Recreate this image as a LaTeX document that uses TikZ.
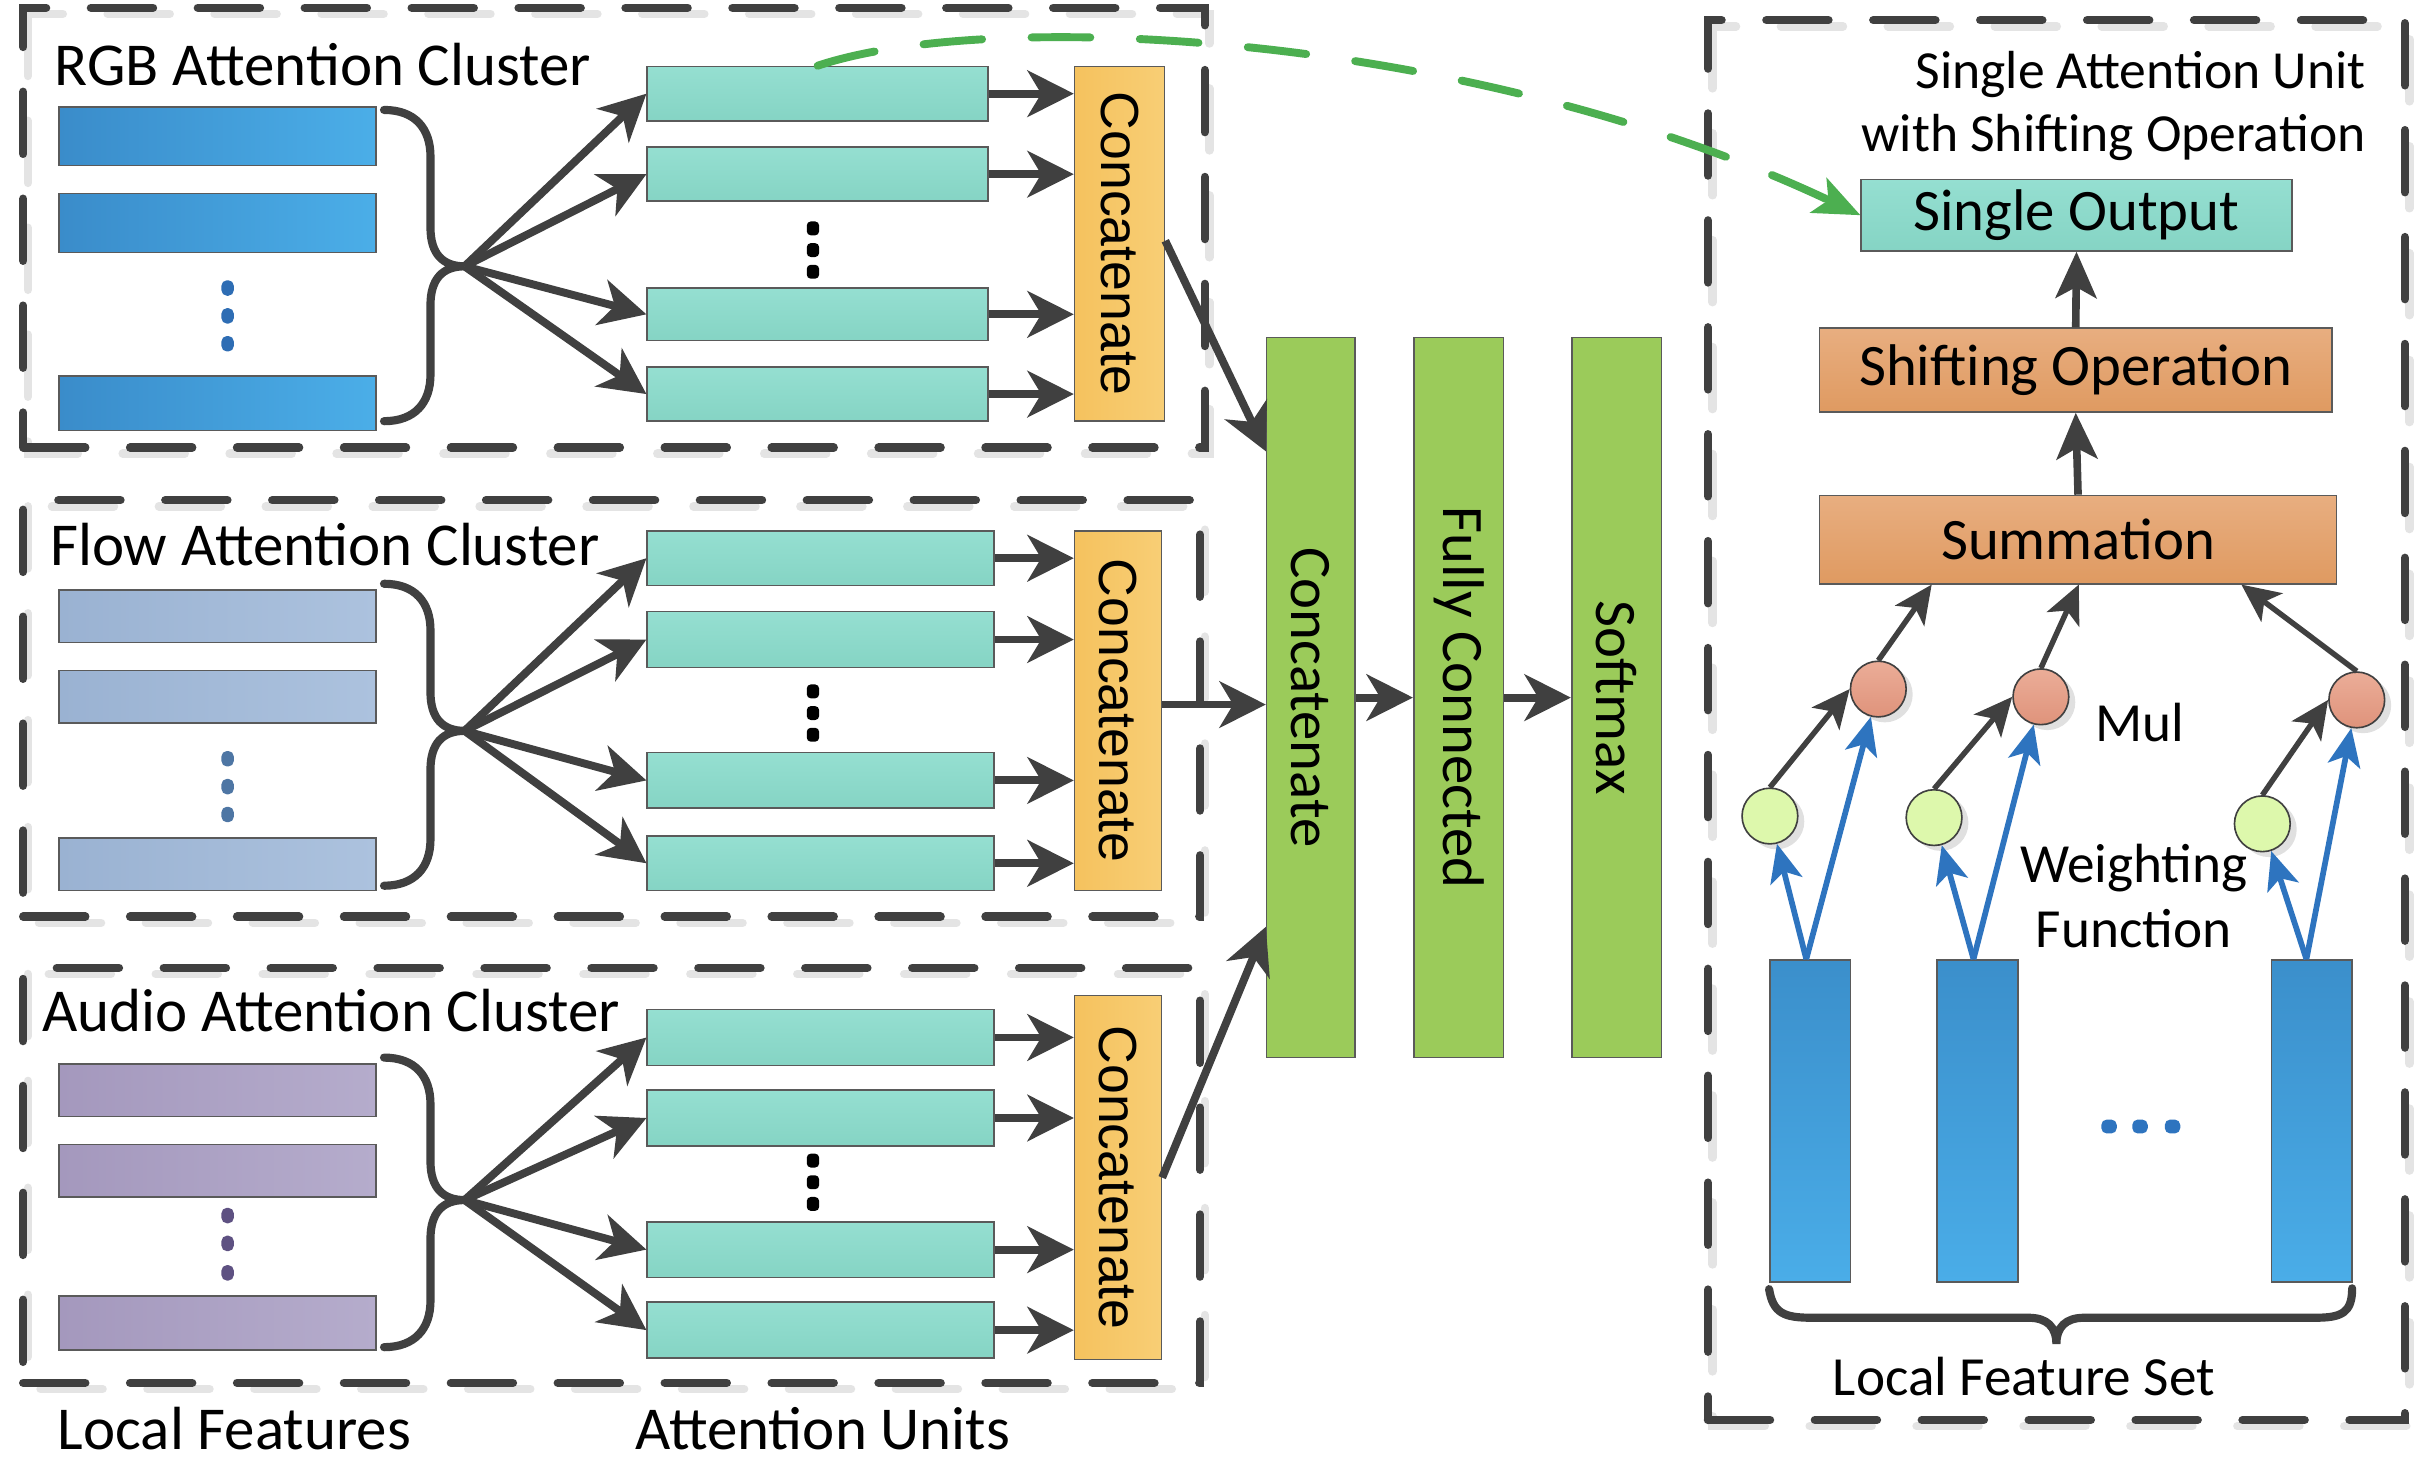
\documentclass[tikz,border=0pt]{standalone}
\usepackage{fontspec}
\setmainfont{Carlito}
\newfontfamily\concfont{Liberation Sans}
\usetikzlibrary{arrows.meta,fit,calc,shadows}
\definecolor{dk}{HTML}{404040}
\definecolor{shg}{HTML}{E4E4E4}
\definecolor{tealT}{HTML}{95DFD1}
\definecolor{tealB}{HTML}{85D4C4}
\definecolor{orL}{HTML}{F5C25E}
\definecolor{orR}{HTML}{F8CE75}
\definecolor{grn}{HTML}{9BCB5A}
\definecolor{rgbL}{HTML}{3A8CCA}
\definecolor{rgbR}{HTML}{4BAEE8}
\definecolor{flL}{HTML}{9AB2D2}
\definecolor{flR}{HTML}{ACC2DE}
\definecolor{auL}{HTML}{A498BD}
\definecolor{auR}{HTML}{B5ACCC}
\definecolor{rgbdot}{HTML}{2E6DB4}
\definecolor{fldot}{HTML}{4E76A4}
\definecolor{audot}{HTML}{5E5182}
\definecolor{cupT}{HTML}{E8AE80}
\definecolor{cupB}{HTML}{DF9A61}
\definecolor{redT}{HTML}{EBAD98}
\definecolor{redB}{HTML}{DF937B}
\definecolor{lgrn}{HTML}{DDF8AC}
\definecolor{fbT}{HTML}{3B8FCB}
\definecolor{fbB}{HTML}{4AADE8}
\definecolor{blu}{HTML}{2E74BF}
\definecolor{gdash}{HTML}{4CAF50}
\definecolor{edge}{HTML}{5A5A5A}
\newcommand\fsA{\fontsize{22.4}{26}\selectfont}
\newcommand\fsR{\fontsize{21.6}{26}\selectfont}
\newcommand\fsS{\fontsize{20.3}{24}\selectfont}
\newcommand\fsB{\fontsize{19.7}{24}\selectfont}
\newcommand\fsC{\fontsize{19.7}{24}\selectfont}
\tikzset{
  box/.style={draw=edge, line width=0.6pt, inner sep=0pt},
  unitbox/.style={box, top color=tealT, bottom color=tealB},
  concbox/.style={box, left color=orL, right color=orR},
  greenbox/.style={box, fill=grn},
  rgbbar/.style={box, left color=rgbL, right color=rgbR},
  flbar/.style={box, left color=flL, right color=flR},
  aubar/.style={box, left color=auL, right color=auR},
  featbar/.style={box, top color=fbT, bottom color=fbB},
  opbox/.style={box, top color=cupT, bottom color=cupB},
  dashline/.style={draw=dk, line width=3.1pt, dash pattern=on 22.8pt off 16.5pt, line cap=round},
  dashsh/.style={draw=shg, line width=3.1pt, dash pattern=on 22.8pt off 16.5pt, line cap=round},
  brc/.style={draw=dk, line width=3pt, line cap=round},
  arr/.style={draw=dk, line width=2.9pt, -{Stealth[length=17pt,width=17pt,inset=5pt]}},
  varr/.style={draw=dk, line width=2.8pt, -{Stealth[length=17pt,width=15pt,inset=4pt]}},
  sarr/.style={draw=dk, line width=2pt, -{Stealth[length=14pt,width=13pt,inset=3.5pt]}},
  barr/.style={draw=blu, line width=2.1pt, -{Stealth[length=14pt,width=12pt,inset=3.5pt]}},
  gdarr/.style={draw=gdash, line width=2.9pt, line cap=round, dash pattern=on 21.6pt off 18.2pt, -{Stealth[length=17pt,width=14pt,inset=4pt]}},
  redc/.style={circle, draw=dk, line width=0.6pt, top color=redT, bottom color=redB, minimum size=0.72cm, inner sep=0pt, drop shadow={shadow xshift=2.4pt, shadow yshift=-2pt, fill=black, opacity=0.12}},
  grc/.style={circle, draw=dk, line width=0.6pt, fill=lgrn, minimum size=0.72cm, inner sep=0pt, drop shadow={shadow xshift=2.4pt, shadow yshift=-2pt, fill=black, opacity=0.12}},
  lbl/.style={font=\fsA, inner sep=0pt},
  rlbl/.style={font=\fsR, inner sep=0pt},
  slbl/.style={font=\fsS, inner sep=0pt},
  vlbl/.style={font=\fsR, inner sep=0pt, rotate=-90},
  clbl/.style={font=\concfont\fsB, inner sep=0pt, rotate=-90},
}
\begin{document}
\begin{tikzpicture}[x=0.02cm, y=-0.02cm]
\fill[white] (0,0) rectangle (1568,945);
\useasboundingbox (0,0) rectangle (1568,945);

% ---------- dashed frames ----------
\draw[dashsh] (18,9) rectangle (781,293);
\draw[dashsh] (18,327) rectangle (778,596);
\draw[dashsh] (18,629) rectangle (778,897);
\draw[dashsh] (1106,17) rectangle (1556,921);
\node[dashline, fit={(15,5) (778,289)}, inner sep=0pt] (rgbframe) {};
\node[dashline, fit={(15,323) (775,592)}, inner sep=0pt] (flframe) {};
\node[dashline, fit={(15,625) (775,893)}, inner sep=0pt] (auframe) {};
\node[dashline, fit={(1103,13) (1553,917)}, inner sep=0pt] (unitframe) {};

% ---------- RGB cluster ----------
\node[lbl, anchor=base west] (rgbt) at (35,55) {RGB Attention Cluster};
\node[rgbbar, fit={(38,69) (243,107)}] (a1) {};
\node[rgbbar, fit={(38,125) (243,163)}] (a2) {};
\node[rgbbar, fit={(38,243) (243,278)}] (a3) {};
\foreach \yy in {186,204,222} \fill[rgbdot, rounded corners=2pt] (143,\yy-5) rectangle (151,\yy+5);
\draw[brc] (248,71) .. controls (268,71) and (278,83) .. (278,101) -- (278,147) .. controls (278,164) and (286,172) .. (300,172) .. controls (286,172) and (278,180) .. (278,197) -- (278,242) .. controls (278,260) and (268,272) .. (248,272);
\coordinate (t1) at (300,172);
\node[unitbox, fit={(418,43) (638,78)}] (u11) {};
\node[unitbox, fit={(418,95) (638,130)}] (u12) {};
\node[unitbox, fit={(418,186) (638,220)}] (u13) {};
\node[unitbox, fit={(418,237) (638,272)}] (u14) {};
\foreach \yy in {148,162,176} \fill[black, rounded corners=1.5pt] (521,\yy-5) rectangle (529,\yy+4);
\node[concbox, fit={(694,43) (752,272)}] (c1) {};
\node[clbl] (c1t) at (c1.center) {Concatenate};
\foreach \u in {u11,u12,u13,u14} {
  \draw[arr] (t1) -- (\u.west);
  \draw[arr] (\u.east) -- (\u.east -| c1.west);
}

% ---------- Flow cluster ----------
\node[lbl, anchor=base west] (flt) at (32,365) {Flow Attention Cluster};
\node[flbar, fit={(38,381) (243,415)}] (b1) {};
\node[flbar, fit={(38,433) (243,467)}] (b2) {};
\node[flbar, fit={(38,541) (243,575)}] (b3) {};
\foreach \yy in {490,508,526} \fill[fldot, rounded corners=2pt] (143,\yy-5) rectangle (151,\yy+5);
\draw[brc] (248,377) .. controls (268,377) and (278,389) .. (278,407) -- (278,447) .. controls (278,464) and (286,472) .. (300,472) .. controls (286,472) and (278,480) .. (278,497) -- (278,542) .. controls (278,560) and (268,572) .. (248,572);
\coordinate (t2) at (300,472);
\node[unitbox, fit={(418,343) (642,378)}] (u21) {};
\node[unitbox, fit={(418,395) (642,431)}] (u22) {};
\node[unitbox, fit={(418,486) (642,522)}] (u23) {};
\node[unitbox, fit={(418,540) (642,575)}] (u24) {};
\foreach \yy in {447,461,475} \fill[black, rounded corners=1.5pt] (521,\yy-5) rectangle (529,\yy+4);
\node[concbox, fit={(694,343) (750,575)}] (c2) {};
\node[clbl] (c2t) at (c2.center) {Concatenate};
\foreach \u in {u21,u22,u23,u24} {
  \draw[arr] (t2) -- (\u.west);
  \draw[arr] (\u.east) -- (\u.east -| c2.west);
}

% ---------- Audio cluster ----------
\node[lbl, anchor=base west] (aut) at (27,666) {Audio Attention Cluster};
\node[aubar, fit={(38,687) (243,721)}] (d1) {};
\node[aubar, fit={(38,739) (243,773)}] (d2) {};
\node[aubar, fit={(38,837) (243,872)}] (d3) {};
\foreach \yy in {785,803,822} \fill[audot, rounded corners=2pt] (143,\yy-5) rectangle (151,\yy+5);
\draw[brc] (248,683) .. controls (268,683) and (278,695) .. (278,713) -- (278,750) .. controls (278,767) and (286,775) .. (300,775) .. controls (286,775) and (278,783) .. (278,800) -- (278,840) .. controls (278,858) and (268,870) .. (248,870);
\coordinate (t3) at (300,775);
\node[unitbox, fit={(418,652) (642,688)}] (u31) {};
\node[unitbox, fit={(418,704) (642,740)}] (u32) {};
\node[unitbox, fit={(418,789) (642,825)}] (u33) {};
\node[unitbox, fit={(418,841) (642,877)}] (u34) {};
\foreach \yy in {750,764,778} \fill[black, rounded corners=1.5pt] (521,\yy-5) rectangle (529,\yy+4);
\node[concbox, fit={(694,643) (750,878)}] (c3) {};
\node[clbl] (c3t) at (c3.center) {Concatenate};
\foreach \u in {u31,u32,u33,u34} {
  \draw[arr] (t3) -- (\u.west);
  \draw[arr] (\u.east) -- (\u.east -| c3.west);
}

% ---------- bottom labels ----------
\node[lbl, anchor=base west] (lf) at (37,936) {Local Features};
\node[lbl, anchor=base west] (au) at (410,936) {Attention Units};

% ---------- middle column ----------
\node[greenbox, fit={(818,218) (875,683)}] (cc) {};
\node[vlbl] (cct) at (cc.center) {Concatenate};
\node[greenbox, fit={(913,218) (971,683)}] (fc) {};
\node[vlbl] (fct) at (fc.center) {Fully Connected};
\node[greenbox, fit={(1015,218) (1073,683)}] (sm) {};
\node[vlbl] (smt) at (sm.center) {Softmax};
\draw[arr] ($(c1.east)+(0,-2)$) -- ($(cc.north west)+(0,74)$);
\draw[arr] ($(c2.east)+(0,-4)$) -- ($(c2.east -| cc.west)+(0,-4)$);
\draw[arr] (c3.east) -- ($(cc.south west)+(0,-85)$);
\draw[arr] (cc.east) -- (fc.west);
\draw[arr] (fc.east) -- (sm.west);

% ---------- single attention unit ----------
\node[font=\fsC, inner sep=0pt, anchor=base east] (sat1) at (1528,57) {Single Attention Unit};
\node[font=\fsC, inner sep=0pt, anchor=base east] (sat2) at (1528,98) {with Shifting Operation};
\node[unitbox, fit={(1202,116) (1480,162)}] (out) {};
\node[rlbl] (outt) at (out.center) {Single Output};
\node[opbox, fit={(1175,212) (1506,266)}] (shift) {};
\node[rlbl] (shiftt) at (shift.center) {Shifting Operation};
\node[opbox, fit={(1175,320) (1509,377)}] (sum) {};
\node[rlbl] (sumt) at (sum.center) {Summation};
\draw[varr] (shift.north) -- (out.south);
\draw[varr] (sum.north) -- (shift.south);

\node[featbar, fit={(1143,620) (1195,828)}] (f1) {};
\node[featbar, fit={(1251,620) (1303,828)}] (f2) {};
\node[featbar, fit={(1467,620) (1519,828)}] (f3) {};
\foreach \xx in {1362,1382,1403} \fill[blu, rounded corners=2pt] (\xx-5,723) rectangle (\xx+5,732);
\coordinate (s1) at ($(f1.north west)+(24,0)$);
\coordinate (s2) at ($(f2.north west)+(24,0)$);
\coordinate (s3) at ($(f3.north west)+(23,0)$);

\node[redc] (r1) at (1213,445) {};
\node[redc] (r2) at (1318,450) {};
\node[redc] (r3) at (1522,452) {};
\node[grc] (g1) at (1143,527) {};
\node[grc] (g2) at (1249,528) {};
\node[grc] (g3) at (1461,532) {};

\draw[barr] (s1) -- (g1);
\draw[barr] (s1) -- (r1);
\draw[barr] (s2) -- (g2);
\draw[barr] (s2) -- (r2);
\draw[barr] (s3) -- (g3);
\draw[barr] (s3) -- (r3);
\draw[sarr] (g1.north) -- (r1.west);
\draw[sarr] (g2.north) -- (r2.west);
\draw[sarr] (g3.north) -- (r3.west);
\draw[sarr] (r1.north) -- ($(sum.south west)+(73,0)$);
\draw[sarr] (r2.north) -- ($(sum.south west)+(168,0)$);
\draw[sarr] (r3.north) -- ($(sum.south west)+(273,0)$);

\node[slbl, anchor=base west] (mul) at (1353,479) {Mul};
\node[slbl, anchor=base] (wt) at (1378,570) {Weighting};
\node[slbl, anchor=base] (fn) at (1378,612) {Function};

\draw[brc] (f1.south west) ++(0,4) .. controls (1145,848) and (1152,851) .. (1170,851) -- (1310,851) .. controls (1322,851) and (1328,857) .. (1328,868) .. controls (1328,857) and (1334,851) .. (1346,851) -- (1495,851) .. controls (1512,851) and (1519,848) .. (1519,832);
\node[slbl, anchor=base] (lfs) at (1307,901) {Local Feature Set};

% ---------- green dashed link ----------
\draw[gdarr] (u11.north) .. controls (640,5) and (950,20) .. (out.west);
\end{tikzpicture}
\end{document}
